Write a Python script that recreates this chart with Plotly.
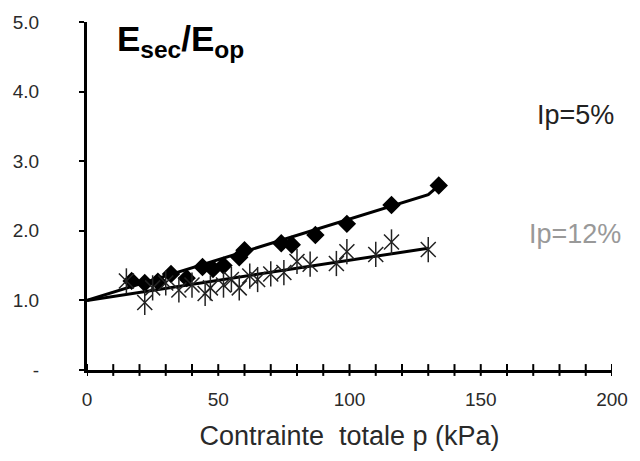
import plotly.graph_objects as go

# Measured points: secant modulus ratio vs total stress
p_ip5 = [17, 22, 27, 32, 38, 44, 48, 52, 58, 60, 74, 78, 87, 99, 116, 134]
e_ip5 = [1.28, 1.25, 1.27, 1.38, 1.32, 1.48, 1.45, 1.50, 1.62, 1.72, 1.82, 1.80, 1.94, 2.10, 2.37, 2.65]

p_ip12 = [15, 22, 25, 30, 35, 40, 45, 47, 52, 55, 58, 62, 65, 70, 75, 80, 85, 95, 99, 110, 116, 130]
e_ip12 = [1.28, 0.97, 1.18, 1.25, 1.15, 1.22, 1.10, 1.18, 1.22, 1.30, 1.18, 1.35, 1.30, 1.38, 1.40,
          1.56, 1.52, 1.53, 1.70, 1.66, 1.84, 1.73]

# Fitted trend lines
trend5_p = [0, 130, 134]
trend5_e = [1.0, 2.52, 2.65]
trend12_p = [0, 130]
trend12_e = [1.0, 1.75]

x_ticks = list(range(0, 201, 10))
x_labels = [str(v) if v % 50 == 0 else "" for v in x_ticks]
y_ticks = [0, 1, 2, 3, 4, 5]
y_labels = ["-", "1.0", "2.0", "3.0", "4.0", "5.0"]

font_family = "Liberation Sans, Arial, sans-serif"

fig = go.Figure()

fig.add_trace(go.Scatter(x=trend5_p, y=trend5_e, mode="lines",
                         line=dict(color="black", width=3), showlegend=False))
fig.add_trace(go.Scatter(x=trend12_p, y=trend12_e, mode="lines",
                         line=dict(color="black", width=3), showlegend=False))

fig.add_trace(go.Scatter(x=p_ip5, y=e_ip5, mode="markers",
                         marker=dict(symbol="diamond", size=12, color="black",
                                     line=dict(color="black", width=2)),
                         showlegend=False))

# six-armed star: diagonal cross plus vertical bar
fig.add_trace(go.Scatter(x=p_ip12, y=e_ip12, mode="markers",
                         marker=dict(symbol="x-thin-open", size=15, color="#222",
                                     line=dict(color="#222", width=1.5)),
                         showlegend=False))
fig.add_trace(go.Scatter(x=p_ip12, y=e_ip12, mode="markers",
                         marker=dict(symbol="line-ns-open", size=18, color="#222",
                                     line=dict(color="#222", width=1.5)),
                         showlegend=False))

# tick marks crossing the horizontal axis
for v in x_ticks:
    fig.add_shape(type="line", xref="x", yref="paper", x0=v, x1=v, y0=-0.017, y1=0.017,
                  line=dict(color="black", width=2), layer="above")

fig.add_annotation(x=10.5, y=4.73, xref="x", yref="y", xanchor="left", yanchor="middle",
                   text="<b>E<sub>sec</sub>/E<sub>op</sub></b>", showarrow=False,
                   font=dict(family=font_family, size=35, color="black"))
fig.add_annotation(x=186, y=3.67, xref="x", yref="y", xanchor="center", yanchor="middle",
                   text="Ip=5%", showarrow=False,
                   font=dict(family=font_family, size=27, color="#222"))
fig.add_annotation(x=186, y=1.96, xref="x", yref="y", xanchor="center", yanchor="middle",
                   text="Ip=12%", showarrow=False,
                   font=dict(family=font_family, size=27, color="#999"))

fig.update_layout(
    width=640, height=461,
    margin=dict(l=87, r=20, t=18, b=91),
    paper_bgcolor="white", plot_bgcolor="white",
    font=dict(family=font_family, color="#333"),
    xaxis=dict(range=[0, 200], tickmode="array", tickvals=x_ticks, ticktext=x_labels,
               ticks="", showline=True, linecolor="black", linewidth=3, showgrid=False,
               zeroline=False, ticklabelstandoff=10, tickfont=dict(size=19, color="#2a2a2a"),
               title=dict(text="Contrainte  totale p (kPa)", font=dict(size=27, color="#2a2a2a"),
                          standoff=18)),
    yaxis=dict(range=[0, 5], tickmode="array", tickvals=y_ticks, ticktext=y_labels,
               ticks="outside", ticklen=5, tickwidth=2, tickcolor="black",
               showline=True, linecolor="black", linewidth=3, showgrid=False,
               zeroline=False, ticklabelstandoff=36,
               tickfont=dict(size=19, color="#2a2a2a")),
)

fig.write_html("out.html")
